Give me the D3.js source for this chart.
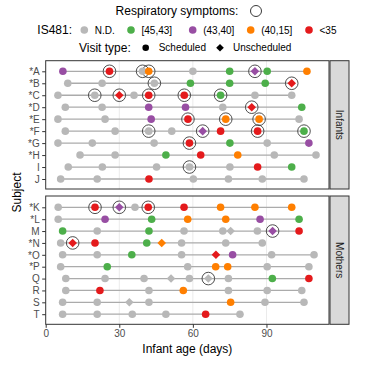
<!DOCTYPE html>
<html><head><meta charset="utf-8">
<script src="https://cdn.jsdelivr.net/npm/d3@7"></script>
<style>
html,body{margin:0;padding:0;background:#fff;}
svg{display:block;font-family:"Liberation Sans",Arial,sans-serif;}
</style></head>
<body>
<svg id="chart" width="373" height="365"></svg>
<script>
// ---------------- data ----------------
const levels = ["N.D.", "[45,43]", "(43,40]", "(40,15]", "<35"];
const levelColors = ["#b8b8b8", "#4daf4a", "#984ea3", "#ff7f00", "#e41a1c"];
const visitTypes = ["Scheduled", "Unscheduled"];
const xTicks = [0, 30, 60, 90];

const infantSubjects = ["*A","*B","*C","*D","*E","*F","*G","*H","I","J"];
const motherSubjects = ["*K","*L","M","*N","*O","*P","Q","R","S","T"];

// each visit: [infant age (days), IS481 level index, unscheduled (1) / scheduled (0), respiratory symptoms (1/0)]
const visitsA = [[7,2,0,0],[26,4,0,1],[39.5,0,0,1],[42,3,0,1],[60,0,0,0],[75,1,0,0],[85.3,2,1,1],[90.3,1,0,0],[106.5,3,0,0]];
const visitsB = [[9,0,0,0],[23,0,0,0],[44.3,0,0,1],[59,1,0,0],[75,1,0,0],[89.5,1,0,0],[100.3,4,1,1]];
const visitsC = [[5,0,0,0],[20,0,0,1],[30,4,1,1],[36,0,0,0],[42,4,0,1],[56.5,4,0,1],[71.3,1,0,1],[85.3,0,0,0],[100.3,0,0,0]];
const visitsD = [[8,0,0,0],[23,0,0,0],[42,2,0,0],[57,2,0,0],[72.2,0,0,0],[84,4,1,1],[104.4,1,0,0]];
const visitsE = [[5,0,0,0],[24.2,0,0,0],[43,2,0,0],[58,4,0,1],[73.4,3,0,1],[87,3,0,1],[103.3,0,0,0]];
const visitsF = [[8,0,0,0],[28.3,0,0,0],[42,0,0,1],[51.4,0,0,0],[64,2,1,1],[71.3,4,0,0],[86.4,4,0,1],[105.3,1,0,1]];
const visitsG = [[5,0,0,0],[19,0,0,0],[44.2,0,0,0],[58.6,4,0,1],[75.1,1,0,0],[90.3,0,0,0],[107.3,2,0,0]];
const visitsH = [[14,0,0,0],[28.3,0,0,0],[49,1,0,0],[63.2,4,0,0],[78.3,3,0,0],[93.2,0,0,0],[110.2,0,0,0]];
const visitsI = [[9.2,0,0,0],[23.1,0,0,0],[45.2,0,0,0],[58.6,0,0,1],[75.1,0,0,0],[86.4,4,0,0],[100.3,1,0,0]];
const visitsJ = [[6.1,0,0,0],[21,0,0,0],[42.1,4,0,0],[60.2,0,0,0],[74.5,0,0,0],[88.3,0,0,0],[105.3,0,0,0]];
const visitsK = [[5.1,0,0,0],[20.1,4,0,1],[30,2,1,1],[36.4,0,0,0],[41.8,4,0,1],[56.4,4,0,0],[71.3,3,0,0],[85.3,3,0,0],[100.3,3,0,0]];
const visitsL = [[5.1,0,0,0],[24.2,2,0,0],[43.2,1,0,0],[57.9,3,0,0],[73.4,3,0,0],[87.4,2,0,0],[103.3,1,0,0]];
const visitsM = [[6.9,1,0,0],[21,0,0,0],[42.1,1,0,0],[56.4,0,0,0],[72.2,0,0,0],[75.4,0,1,0],[86.3,0,0,0],[92.5,2,1,1],[103.3,4,0,0]];
const visitsN = [[6.1,0,0,0],[11,4,1,1],[20.1,4,0,0],[41.2,1,0,0],[47.3,3,1,0],[55.4,0,0,0],[73.4,0,0,0],[88.3,0,0,0]];
const visitsO = [[6.9,0,0,0],[21,0,0,0],[35.1,1,0,0],[55.4,0,0,0],[69.4,4,1,0],[76.2,2,0,0],[92.1,0,0,0],[109.4,0,0,0]];
const visitsP = [[6.1,0,0,0],[25.1,1,0,0],[57.9,0,0,0],[69.3,3,0,0],[74.2,3,0,0],[90.3,0,0,0],[107.3,0,0,0]];
const visitsQ = [[8.2,0,0,0],[24.2,0,0,0],[40.1,0,0,0],[51.1,0,1,0],[58.6,0,0,0],[66.3,0,1,1],[74.5,0,0,0],[92.4,1,0,0],[107.3,4,0,0]];
const visitsR = [[8.2,0,0,0],[22.1,4,0,0],[42.1,0,0,0],[56.1,3,0,0],[74.5,0,0,0],[90.3,0,0,0],[104.4,0,0,0]];
const visitsS = [[6.9,0,0,0],[21,0,0,0],[34.1,0,1,0],[42.1,0,0,0],[75.4,3,0,0],[89.4,0,0,0],[105.3,0,0,0]];
const visitsT = [[6.9,0,0,0],[21,0,0,0],[35.3,0,0,0],[49,0,0,0],[65.2,4,0,0],[79.2,0,0,0]];

const visitsBySubject = {
  "*A":visitsA,"*B":visitsB,"*C":visitsC,"*D":visitsD,"*E":visitsE,"*F":visitsF,"*G":visitsG,"*H":visitsH,"I":visitsI,"J":visitsJ,
  "*K":visitsK,"*L":visitsL,"M":visitsM,"*N":visitsN,"*O":visitsO,"*P":visitsP,"Q":visitsQ,"R":visitsR,"S":visitsS,"T":visitsT
};

// ---------------- layout ----------------
const svg = d3.select("#chart");
const FONT = '"Liberation Sans",Arial,sans-serif';
const panelLeft = 45.7, panelRight = 329;
const x = d3.scaleLinear().domain([0, 115.5]).range([panelLeft, panelRight]);
const color = d3.scaleOrdinal().domain(d3.range(levels.length)).range(levelColors);

const panels = [
  {name:"Infants", subjects: infantSubjects, top:60.7, bottom:189, yRange:[71.3,179], last:false},
  {name:"Mothers", subjects: motherSubjects, top:196, bottom:324.3, yRange:[207.3,314.2], last:true}
];

const dotR = 3.8, ringR = 6.3, diaH = 4.3;
const diamondPath = h => `M0,${-h}L${h},0L0,${h}L${-h},0Z`;

panels.forEach(p => {
  const y = d3.scalePoint().domain(p.subjects).range(p.yRange);
  const g = svg.append("g");
  // background
  g.append("rect").attr("x", panelLeft).attr("y", p.top)
    .attr("width", panelRight - panelLeft).attr("height", p.bottom - p.top).attr("fill", "#fff");
  // vertical grid
  g.selectAll("line.grid").data(xTicks.filter(t => t > 0)).join("line")
    .attr("x1", d => x(d)).attr("x2", d => x(d)).attr("y1", p.top).attr("y2", p.bottom)
    .attr("stroke", "#ebebeb").attr("stroke-width", 1);

  // subject lines
  const rows = p.subjects.map(s => ({s, v: visitsBySubject[s]}));
  g.selectAll("line.subj").data(rows).join("line")
    .attr("x1", d => x(d3.min(d.v, e => e[0]))).attr("x2", d => x(d3.max(d.v, e => e[0])))
    .attr("y1", d => y(d.s)).attr("y2", d => y(d.s))
    .attr("stroke", "#ababab").attr("stroke-width", 1.3);

  const pts = rows.flatMap(r => r.v.map(v => ({s: r.s, day: v[0], lvl: v[1], uns: v[2], sym: v[3]})));

  // symptom rings
  g.selectAll("circle.ring").data(pts.filter(d => d.sym)).join("circle")
    .attr("cx", d => x(d.day)).attr("cy", d => y(d.s)).attr("r", ringR)
    .attr("fill", "none").attr("stroke", "#3a3a3a").attr("stroke-width", 0.9);

  // scheduled points
  g.selectAll("circle.pt").data(pts.filter(d => !d.uns)).join("circle")
    .attr("cx", d => x(d.day)).attr("cy", d => y(d.s)).attr("r", dotR)
    .attr("fill", d => color(d.lvl));
  // unscheduled points
  g.selectAll("path.pt").data(pts.filter(d => d.uns)).join("path")
    .attr("transform", d => `translate(${x(d.day)},${y(d.s)})`)
    .attr("d", diamondPath(diaH)).attr("fill", d => color(d.lvl));

  // panel border
  g.append("rect").attr("x", panelLeft).attr("y", p.top)
    .attr("width", panelRight - panelLeft).attr("height", p.bottom - p.top)
    .attr("fill", "none").attr("stroke", "#333").attr("stroke-width", 1);

  // y axis
  const ya = g.append("g").attr("transform", `translate(${panelLeft},0)`)
    .call(d3.axisLeft(y).tickSize(3.5).tickPadding(2.5));
  ya.select(".domain").remove();
  ya.selectAll(".tick line").attr("stroke", "#333");
  ya.selectAll(".tick text").attr("fill", "#4d4d4d").attr("font-size", 10).attr("font-family", FONT);

  // x axis on last panel
  if (p.last) {
    const xa = g.append("g").attr("transform", `translate(0,${p.bottom})`)
      .call(d3.axisBottom(x).tickValues(xTicks).tickSize(3.5).tickPadding(2.5));
    xa.select(".domain").remove();
    xa.selectAll(".tick line").attr("stroke", "#333");
    xa.selectAll(".tick text").attr("fill", "#4d4d4d").attr("font-size", 10).attr("font-family", FONT);
  }

  // strip
  g.append("rect").attr("x", 330).attr("y", p.top).attr("width", 19).attr("height", p.bottom - p.top)
    .attr("fill", "#d9d9d9").attr("stroke", "#333").attr("stroke-width", 1);
  g.append("text").attr("transform", `translate(339.5,${(p.top + p.bottom) / 2}) rotate(90)`)
    .attr("text-anchor", "middle").attr("dy", "0.35em").attr("font-size", 10).attr("fill", "#1a1a1a")
    .text(p.name);
});

// axis titles
svg.append("text").attr("x", (panelLeft + panelRight) / 2).attr("y", 349).attr("dy", "0.35em")
  .attr("text-anchor", "middle").attr("font-size", 12).text("Infant age (days)");
svg.append("text").attr("transform", "translate(17,192.5) rotate(-90)").attr("dy", "0.35em")
  .attr("text-anchor", "middle").attr("font-size", 12).text("Subject");

// ---------------- legend ----------------
const lg = svg.append("g");
// Respiratory symptoms
lg.append("text").attr("x", 238.3).attr("y", 11).attr("dy", "0.35em").attr("text-anchor", "end")
  .attr("font-size", 12).text("Respiratory symptoms:");
lg.append("circle").attr("cx", 256).attr("cy", 11).attr("r", 5.5)
  .attr("fill", "none").attr("stroke", "#3a3a3a").attr("stroke-width", 1);

// IS481
lg.append("text").attr("x", 37.3).attr("y", 30).attr("dy", "0.35em").attr("font-size", 12).text("IS481:");
const levelKeyX = [84.3, 131, 192.7, 250.7, 309];
levels.forEach((l, i) => {
  lg.append("circle").attr("cx", levelKeyX[i]).attr("cy", 30).attr("r", dotR).attr("fill", color(i));
  lg.append("text").attr("x", levelKeyX[i] + 10.5).attr("y", 30).attr("dy", "0.35em")
    .attr("font-size", 10).text(l);
});

// Visit type
lg.append("text").attr("x", 79).attr("y", 47.7).attr("dy", "0.35em").attr("font-size", 12).text("Visit type:");
const typeKeyX = [145.7, 220];
visitTypes.forEach((t, i) => {
  if (i === 0) lg.append("circle").attr("cx", typeKeyX[i]).attr("cy", 47.7).attr("r", 3.3).attr("fill", "#000");
  else lg.append("path").attr("transform", `translate(${typeKeyX[i]},47.7)`).attr("d", diamondPath(3.8)).attr("fill", "#000");
  lg.append("text").attr("x", typeKeyX[i] + 13).attr("y", 47.7).attr("dy", "0.35em")
    .attr("font-size", 10).text(t);
});
</script>
</body></html>
